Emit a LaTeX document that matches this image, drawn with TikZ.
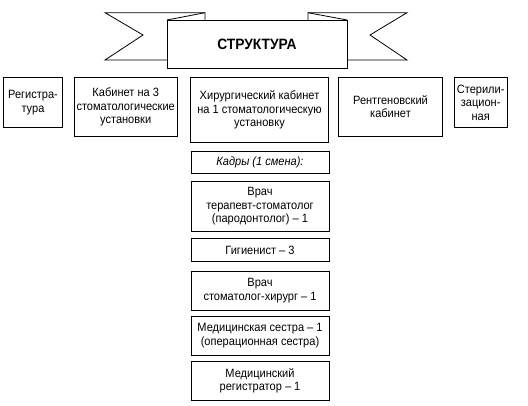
\documentclass[tikz,border=0pt]{standalone}
\usepackage{fontspec}
\setmainfont{Liberation Sans}[FakeStretch=0.92]
\begin{document}
\begin{tikzpicture}[x=1pt,y=-1pt,
  box/.style={draw=black,line width=0.8pt,fill=white,align=center,inner sep=1pt,
    font=\fontsize{12}{13.4}\selectfont},
  ribbon/.style={draw=black,line width=0.8pt,line join=miter}]
\useasboundingbox (0,0) rectangle (528,406);
% ribbon tails
\draw[ribbon] (205,20) -- (205,12.7) -- (105,12.7) -- (143,35) -- (105,60) -- (167,60);
\draw[ribbon] (167,20) -- (205,12.7);
\draw[ribbon] (308,20) -- (308,12.7) -- (407,12.7) -- (370,35) -- (407,60) -- (347,60);
\draw[ribbon] (308,12.7) -- (347,20);
\node[box,minimum width=180pt,minimum height=48pt,font=\fontsize{15}{17}\selectfont\bfseries] (title) at (257,44) {СТРУКТУРА};
% top row
\node[box,minimum width=59.4pt,minimum height=50pt] (reg) at (33,102.7) {Регистра-\\тура};
\node[box,minimum width=103.3pt,minimum height=58.3pt] (kab) at (125.7,106.9) {Кабинет на 3\\стоматологические\\установки};
\node[box,minimum width=137.5pt,minimum height=64.3pt] (hir) at (259.5,109.9) {Хирургический кабинет\\на 1 стоматологическую\\установку};
\node[box,minimum width=104.4pt,minimum height=58.3pt] (rent) at (390.5,106.9) {Рентгеновский\\кабинет};
\node[box,minimum width=53.3pt,minimum height=50pt] (ster) at (480.7,102.7) {Стерили-\\зацион-\\ная};
% staff column
\node[box,minimum width=138pt,minimum height=21.6pt,font=\fontsize{12}{13.4}\selectfont\itshape] (kadry) at (260,162.5) {Кадры (1 смена):};
\node[box,minimum width=138pt,minimum height=50.7pt] (ter) at (260,206.3) {Врач\\терапевт-стоматолог\\(пародонтолог) – 1};
\node[box,minimum width=138pt,minimum height=23.4pt] (gig) at (260,250) {Гигиенист – 3};
\node[box,minimum width=138pt,minimum height=39pt] (hirurg) at (260,290.5) {Врач\\стоматолог-хирург – 1};
\node[box,minimum width=138pt,minimum height=39pt] (sestra) at (260,335.5) {Медицинская сестра – 1\\(операционная сестра)};
\node[box,minimum width=138pt,minimum height=38.3pt] (registr) at (260,380.8) {Медицинский\\регистратор – 1};
\end{tikzpicture}
\end{document}
